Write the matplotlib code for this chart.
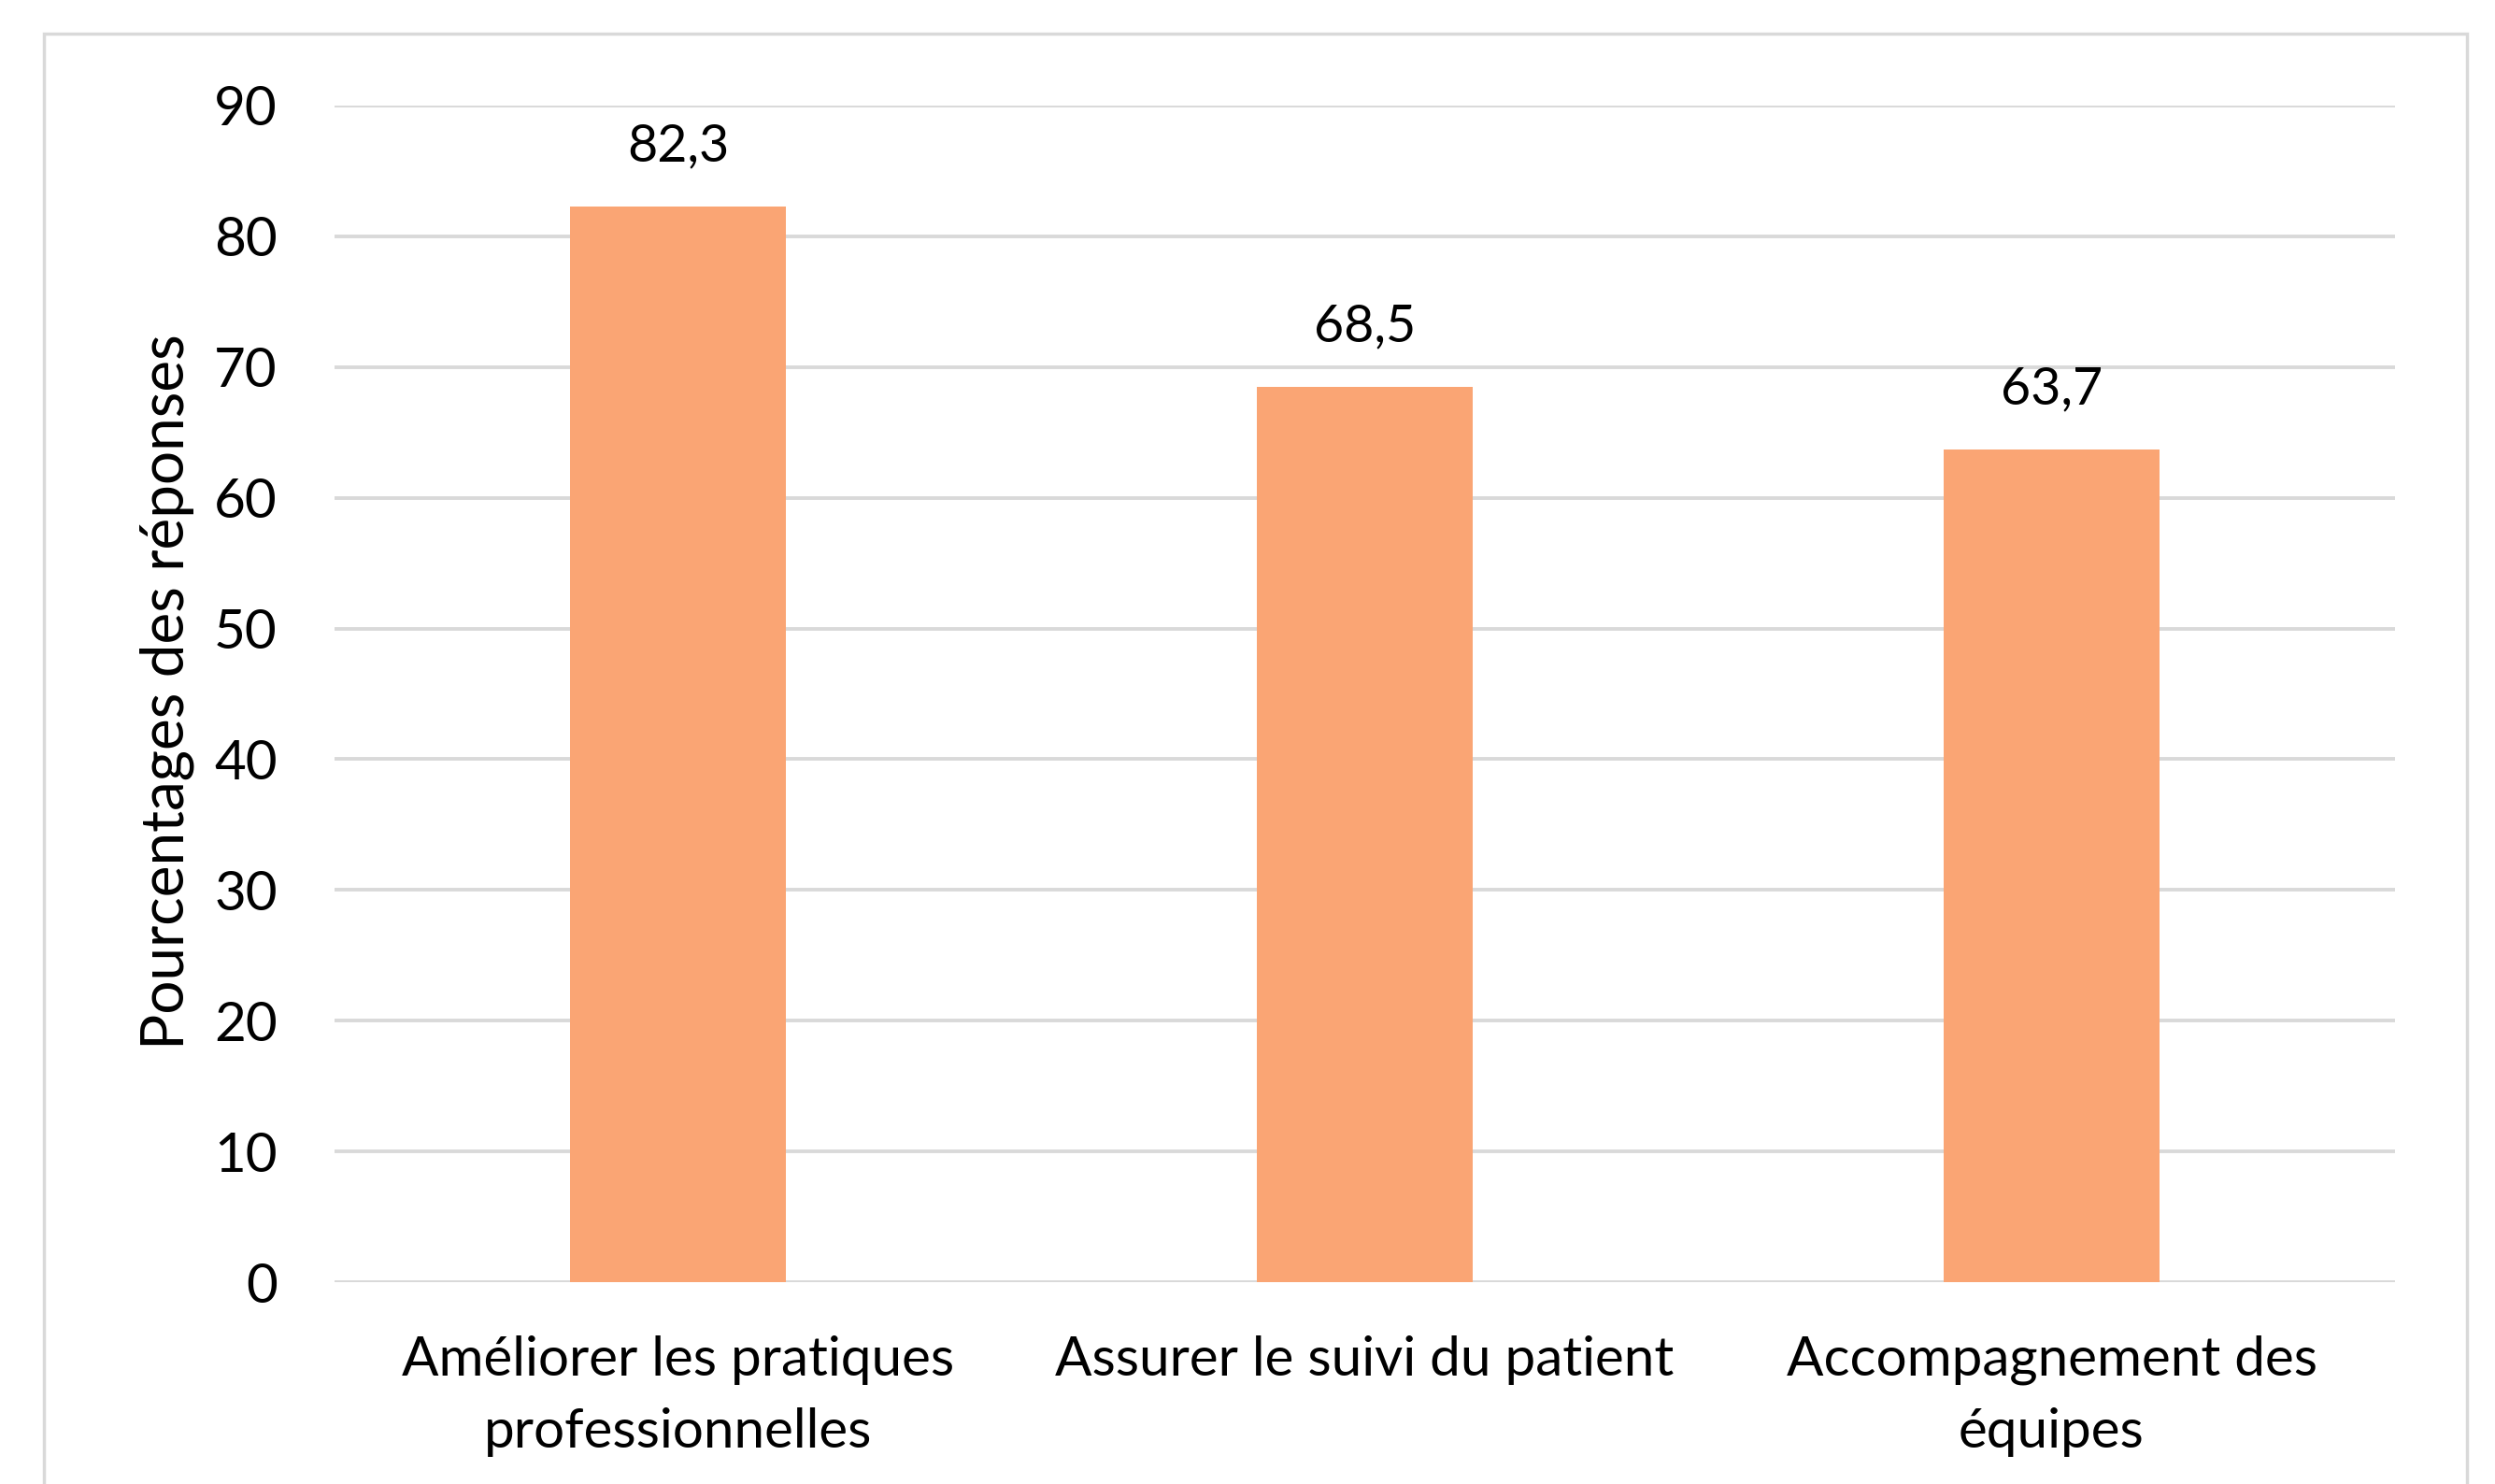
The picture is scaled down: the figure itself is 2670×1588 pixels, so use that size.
import matplotlib
matplotlib.use("Agg")
import matplotlib.pyplot as plt
from matplotlib.patches import Rectangle

categories = ["Améliorer les pratiques\nprofessionnelles",
              "Assurer le suivi du patient",
              "Accompagnement des\néquipes"]
values = [82.3, 68.5, 63.7]
yticks = [0, 10, 20, 30, 40, 50, 60, 70, 80, 90]
ylabel = "Pourcentages des réponses"

plt.rcParams['font.family'] = ['Lato', 'DejaVu Sans']

W, H = 2670, 1588
fig = plt.figure(figsize=(W / 100, H / 100), dpi=100)
fig.patch.set_facecolor("white")

# outer chart frame
fig.add_artist(Rectangle((47 / W, -0.05), (2640 - 47) / W, 1.05 - 36 / H,
                         transform=fig.transFigure, fill=False,
                         edgecolor="#d9d9d9", linewidth=2.5))

ax = fig.add_axes([358 / W, 216 / H, (2563 - 358) / W, (1475 - 216) / H])
x = list(range(len(categories)))
bars = ax.bar(x, values, width=0.314, color="#FAA574", zorder=3)

ax.set_xlim(-0.5, len(categories) - 0.5)
ax.set_ylim(0, 90)
ax.set_yticks(yticks)
ax.set_yticklabels([str(t) for t in yticks], fontsize=42)
ax.set_xticks(x)
ax.set_xticklabels(categories, fontsize=42, linespacing=1.55)
ax.tick_params(axis="y", length=0, pad=44)
ax.tick_params(axis="x", length=0, pad=41)
ax.grid(axis="y", color="#d9d9d9", linewidth=2.8, zorder=0)
ax.set_axisbelow(True)
for s in ax.spines.values():
    s.set_visible(False)

for xi, v in zip(x, values):
    ax.text(xi, v + 2.75, f"{v:.1f}".replace(".", ","), ha="center",
            va="bottom", fontsize=40)

fig.text(179 / W, 1 - 740 / H, ylabel, rotation=90, ha="center",
         va="center", fontsize=46)

fig.savefig("out.png", dpi=100, facecolor="white")
